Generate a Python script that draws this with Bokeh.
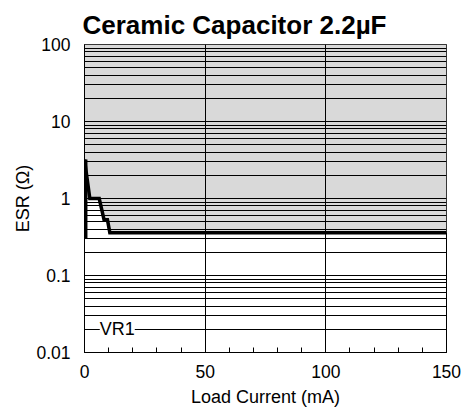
from bokeh.plotting import figure
from bokeh.models import (FixedTicker, SingleIntervalTicker, CustomJSTickFormatter,
                          Range1d, Label)
from bokeh.embed import file_html
from bokeh.resources import INLINE

# ---- data ----
title_text = "Ceramic Capacitor 2.2µF"
x_label = "Load Current (mA)"
y_label = "ESR (Ω)"
x_min, x_max = 0, 150
y_min, y_max = 0.01, 100
y_major = [0.01, 0.1, 1, 10, 100]
y_grid = [m * d for d in [0.01, 0.1, 1, 10] for m in range(1, 10)] + [100]

# stable-region boundary (load current mA, ESR ohm)
bound_x = [0.0, 2.2, 6.1, 8.1, 9.5, 10.5, 150.0]
bound_y = [3.2, 1.0, 1.0, 0.53, 0.53, 0.36, 0.36]
# left vertical edge of the boundary
edge_x = [0.5, 0.5]
edge_y = [0.30, 3.2]
curve_name = "VR1"
curve_label_x = 5.5
curve_label_y = 0.02

FONT = "Liberation Sans"

p = figure(width=462, height=410, output_backend="svg",
           toolbar_location=None, y_axis_type="log",
           x_range=Range1d(x_min, x_max), y_range=Range1d(y_min, y_max),
           min_border_left=84, min_border_right=16, min_border_top=44,
           min_border_bottom=58)

p.title.text = title_text
p.title.text_font = FONT
p.title.text_font_size = "26px"
p.title.text_font_style = "bold"
p.title.align = "left"
p.title.offset = -2
p.title.text_color = "black"

p.outline_line_color = "black"
p.outline_line_width = 1
p.background_fill_color = "white"
p.border_fill_color = "white"

# stable region shading
px = bound_x + [x_max, x_min]
py = bound_y + [y_max, y_max]
p.patch(px, py, fill_color="#d9d9d9", line_color=None, level="image")

# grid
p.ygrid.ticker = FixedTicker(ticks=y_grid)
p.ygrid.grid_line_color = "black"
p.ygrid.grid_line_width = 1
p.xgrid.ticker = FixedTicker(ticks=[50, 100])
p.xgrid.grid_line_color = "black"
p.xgrid.grid_line_width = 1

# boundary curve
p.line(bound_x, bound_y, line_color="black", line_width=3.5, line_join="miter")
p.line(edge_x, edge_y, line_color="black", line_width=3.5)

# curve label
p.add_layout(Label(x=curve_label_x, y=curve_label_y, text=curve_name,
                   text_font=FONT, text_font_size="18px", text_baseline="middle",
                   text_align="left", background_fill_color="white",
                   text_color="black", x_offset=2))

# axes
xa = p.xaxis[0]
xa.ticker = SingleIntervalTicker(interval=50, num_minor_ticks=5)
xa.major_tick_in = 5
xa.major_tick_out = 0
xa.minor_tick_in = 5
xa.minor_tick_out = 0
xa.major_label_standoff = 12
xa.axis_label = x_label
xa.axis_label_standoff = 6
xa.axis_label_text_font = FONT
xa.axis_label_text_font_size = "18px"
xa.axis_label_text_font_style = "normal"
xa.axis_label_text_color = "black"
xa.major_label_text_font = FONT
xa.major_label_text_font_size = "17.5px"
xa.major_label_text_color = "black"
xa.axis_line_color = "black"
xa.major_tick_line_color = "black"
xa.minor_tick_line_color = "black"

ya = p.yaxis[0]
ya.ticker = FixedTicker(ticks=y_major)
ya.formatter = CustomJSTickFormatter(code="return tick.toString();")
ya.major_tick_line_color = None
ya.minor_tick_line_color = None
ya.major_label_standoff = 8
ya.axis_label = y_label
ya.axis_label_standoff = 0
ya.axis_label_text_font = FONT
ya.axis_label_text_font_size = "18px"
ya.axis_label_text_font_style = "normal"
ya.axis_label_text_color = "black"
ya.major_label_text_font = FONT
ya.major_label_text_font_size = "17.5px"
ya.major_label_text_color = "black"
ya.axis_line_color = "black"

open("out.html", "w").write(file_html(p, INLINE))
